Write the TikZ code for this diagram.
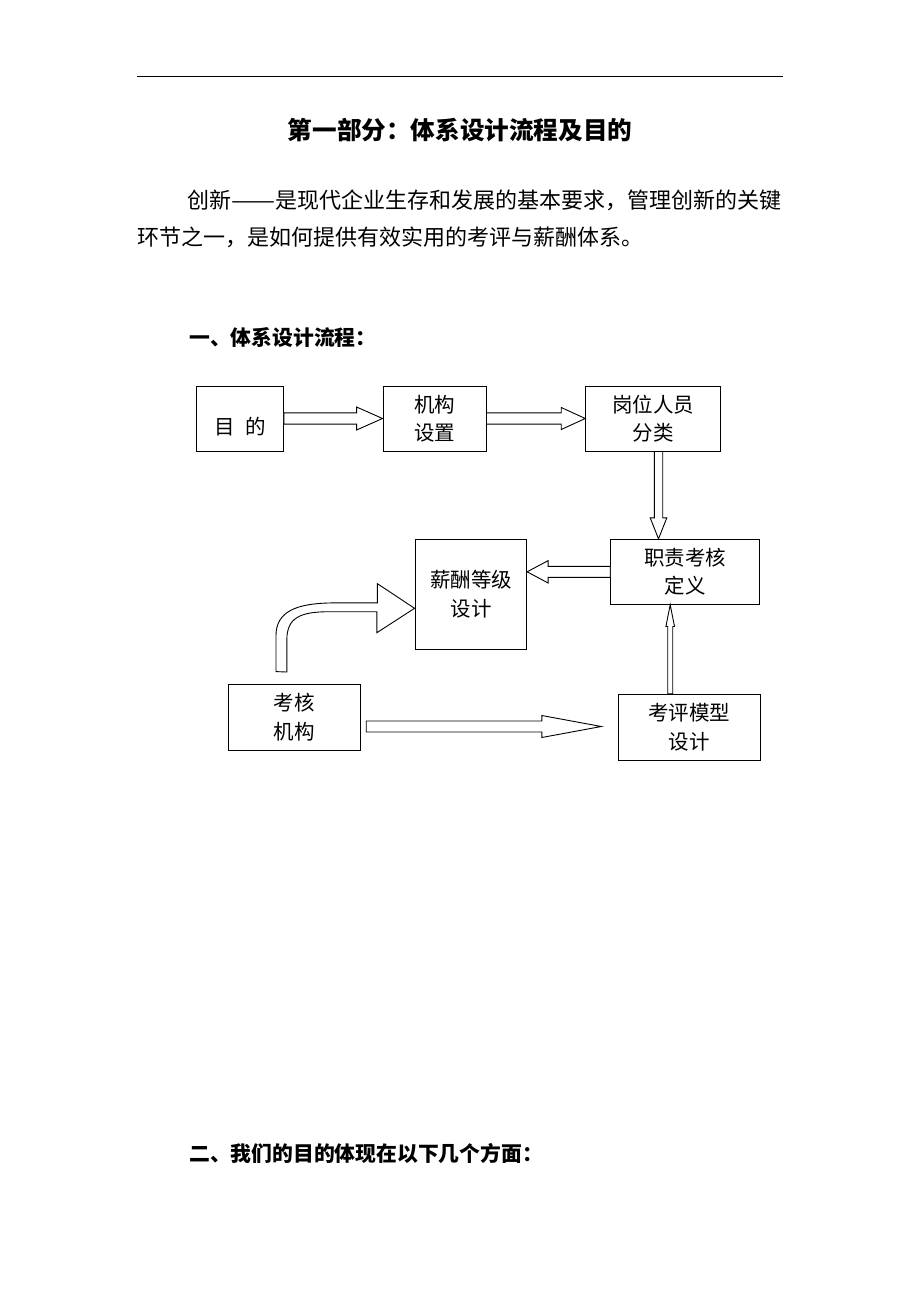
\documentclass[tikz,border=0pt]{standalone}
\usepackage{fontspec}
\setmainfont{Noto Sans CJK SC}
\usetikzlibrary{calc}

% hollow block arrow: start, tip, shaft half width, head half width, head length
\newcommand{\hollowarrow}[5]{%
  \coordinate (hb) at ($(#2)!#5!(#1)$);
  \draw[arrowline] ($(#1)!#3!90:(#2)$) -- ($(hb)!#3!-90:(#1)$) -- ($(hb)!#4!-90:(#1)$) -- (#2)
    -- ($(hb)!#4!90:(#1)$) -- ($(hb)!#3!90:(#1)$) -- ($(#1)!#3!-90:(#2)$) -- cycle;}

\begin{document}
\begin{tikzpicture}[x=1pt,y=-1pt]
	\tikzstyle{every node}=[inner sep=0pt]
	\tikzstyle{box}=[draw, line width=0.9pt, align=center, font=\fontsize{20.5}{28.5}\selectfont]
	\tikzstyle{arrowline}=[draw, line width=0.9pt, fill=white, line join=miter]
	\tikzstyle{heading}=[anchor=west, font=\fontsize{20.8}{20.8}\selectfont\bfseries]
	\tikzstyle{bodytext}=[anchor=west, font=\fontsize{22}{22}\selectfont]
	
	\useasboundingbox (0,0) rectangle (920,1302);
	\draw[line width=1pt] (137,76) -- (783,76);
	
	\node[font=\fontsize{24.6}{24.6}\selectfont\bfseries] (title) at (460,130) {第一部分：体系设计流程及目的};
	\node[bodytext] (para1) at (187,200) {创新\resizebox{2em}{\height}{——}是现代企业生存和发展的基本要求，管理创新的关键};
	\node[bodytext] (para2) at (137,237) {环节之一，是如何提供有效实用的考评与薪酬体系。};
	\node[heading] (sec1) at (189,338) {一、体系设计流程：};
	\node[heading] (sec2) at (189,1153) {二、我们的目的体现在以下几个方面：};
	
	% boxes
	\node[box, minimum width=87, minimum height=65, label={[yshift=-8.5pt, font=\fontsize{20.5}{20.5}\selectfont]center:目\enspace 的}] (mudi) at (240,418.5) {};
	\node[box, minimum width=103, minimum height=65] (jigou) at (434.5,418.5) {机构\\设置};
	\node[box, minimum width=135, minimum height=65] (gangwei) at (653.2,418.5) {岗位人员\\分类};
	\node[box, minimum width=148.6, minimum height=65] (zhize) at (685,571.8) {职责考核\\定义};
	\node[box, minimum width=111, minimum height=109.7] (xinchou) at (471.2,594.2) {薪酬等级\\设计};
	\node[box, minimum width=131.7, minimum height=65.7] (kaohe) at (294.2,717.2) {考核\\机构};
	\node[box, minimum width=141.7, minimum height=65.7] (moxing) at (689.2,727.2) {考评模型\\设计};
	
	% arrows
	\hollowarrow{mudi.east}{jigou.west}{5.6pt}{11.5pt}{26pt}
	\hollowarrow{jigou.east}{gangwei.west}{5.6pt}{11pt}{24pt}
	
	\coordinate (a3s) at ($(gangwei.south)+(5.3,0)$);
	\coordinate (a3e) at (a3s |- zhize.north);
	\hollowarrow{a3s}{a3e}{4.2pt}{8.3pt}{21pt}
	
	\coordinate (a4e) at (xinchou.east |- zhize.west);
	\hollowarrow{zhize.west}{a4e}{5.5pt}{11.2pt}{21pt}
	
	\coordinate (a5s) at ($(moxing.north)+(-19,0)$);
	\coordinate (a5e) at (a5s |- zhize.south);
	\hollowarrow{a5s}{a5e}{2.5pt}{4.3pt}{21.7pt}
	
	\coordinate (a6s) at ($(kaohe.east)+(5.7,9.3)$);
	\coordinate (a6e) at ($(moxing.west)+(-16.6,-0.7)$);
	\hollowarrow{a6s}{a6e}{5.5pt}{11pt}{59.5pt}
	
	% bent arrow into xinchou
	\coordinate (c1) at ($(xinchou.west)+(-0.7,14.1)$);
	\draw[arrowline] ($(kaohe.north)+(-18.2,-12.3)$) -- ++(0,-36)
		.. controls +(0,-24) and +(-39,0) .. ++(59,-32.7) -- ++(42.3,0) -- ++(0,-19.3) -- (c1)
		-- ++(-37.7,24.4) -- ++(0,-21) -- ++(-47.3,0)
		.. controls +(-30,0) and +(0,-22) .. ++(-42.7,28.3) -- ++(0,32) -- cycle;
\end{tikzpicture}
\end{document}
